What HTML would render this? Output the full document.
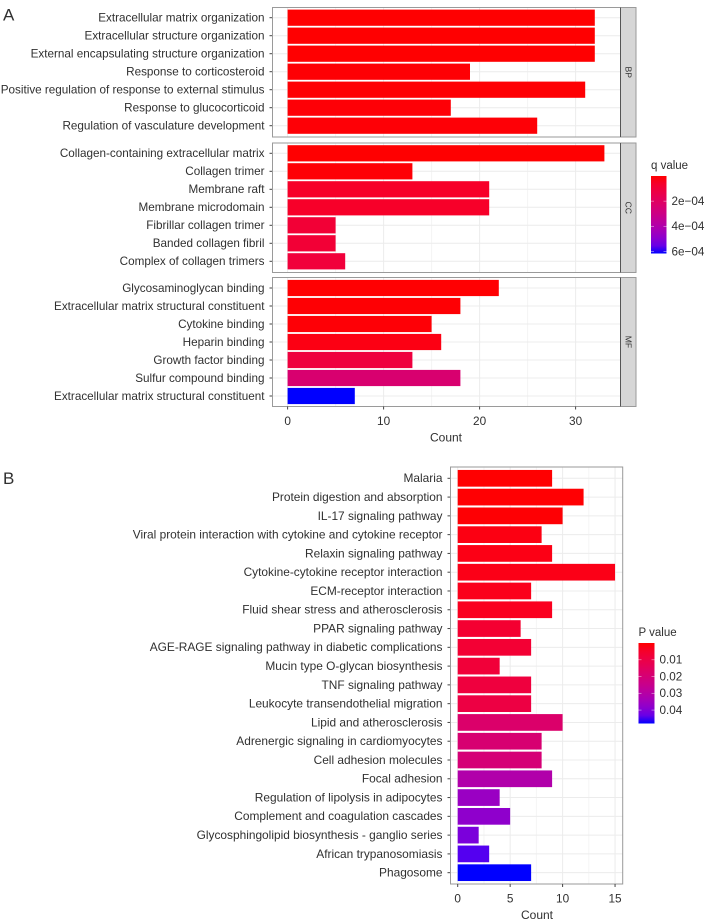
<!DOCTYPE html>
<html>
<head>
<meta charset="utf-8">
<style>
html,body{margin:0;padding:0;background:#fff;}
svg{display:block;}
text{font-family:"Liberation Sans",sans-serif;fill:#303030;}
</style>
</head>
<body>
<svg id="fig" xmlns="http://www.w3.org/2000/svg" width="705" height="924" viewBox="0 0 705 924">
<defs>
<linearGradient id="gradA" x1="0" y1="0" x2="0" y2="1"></linearGradient>
<linearGradient id="gradB" x1="0" y1="0" x2="0" y2="1"></linearGradient>
</defs>
</svg>
<script>
var bpTerms = ["Extracellular matrix organization","Extracellular structure organization","External encapsulating structure organization","Response to corticosteroid","Positive regulation of response to external stimulus","Response to glucocorticoid","Regulation of vasculature development"];
var bpCounts = [32,32,32,19,31,17,26];
var bpQ = [0.000001,0.000001,0.000001,0.000004,0.000004,0.000006,0.000006];
var ccTerms = ["Collagen-containing extracellular matrix","Collagen trimer","Membrane raft","Membrane microdomain","Fibrillar collagen trimer","Banded collagen fibril","Complex of collagen trimers"];
var ccCounts = [33,13,21,21,5,5,6];
var ccQ = [0.000001,0.000006,0.00006,0.00006,0.00009,0.00009,0.0001];
var mfTerms = ["Glycosaminoglycan binding","Extracellular matrix structural constituent","Cytokine binding","Heparin binding","Growth factor binding","Sulfur compound binding","Extracellular matrix structural constituent"];
var mfCounts = [22,18,15,16,13,18,7];
var mfQ = [0.000002,0.000004,0.000006,0.00002,0.00011,0.00024,0.000616];
var aTicks = [0,10,20,30];
var aMinorTicks = [5,15,25];
var aLegendTicks = [0.0002,0.0004,0.0006];
var aLegendLabels = ["2e\u221204","4e\u221204","6e\u221204"];
var aFacets = ["BP","CC","MF"];

var keggTerms = ["Malaria","Protein digestion and absorption","IL-17 signaling pathway","Viral protein interaction with cytokine and cytokine receptor","Relaxin signaling pathway","Cytokine-cytokine receptor interaction","ECM-receptor interaction","Fluid shear stress and atherosclerosis","PPAR signaling pathway","AGE-RAGE signaling pathway in diabetic complications","Mucin type O-glycan biosynthesis","TNF signaling pathway","Leukocyte transendothelial migration","Lipid and atherosclerosis","Adrenergic signaling in cardiomyocytes","Cell adhesion molecules","Focal adhesion","Regulation of lipolysis in adipocytes","Complement and coagulation cascades","Glycosphingolipid biosynthesis - ganglio series","African trypanosomiasis","Phagosome"];
var keggCounts = [9,12,10,8,9,15,7,9,6,7,4,7,7,10,8,8,9,4,5,2,3,7];
var keggP = [0.0001,0.0002,0.0003,0.0015,0.0018,0.002,0.0025,0.003,0.006,0.0065,0.0075,0.0085,0.0095,0.0175,0.019,0.02,0.031,0.036,0.038,0.041,0.045,0.048];
var bTicks = [0,5,10,15];
var bMinorTicks = [2.5,7.5,12.5];
var bLegendTicks = [0.01,0.02,0.03,0.04];
var bLegendLabels = ["0.01","0.02","0.03","0.04"];

var svg = document.getElementById('fig');
var NS = 'http://www.w3.org/2000/svg';
function make(tag, attrs, txt){
  var el = document.createElementNS(NS, tag);
  for (var k in attrs) el.setAttribute(k, attrs[k]);
  if (txt !== undefined) el.textContent = txt;
  svg.appendChild(el);
  return el;
}
/* Lab interpolation between red and blue (as ggplot's scale_fill_gradient) */
var L0=[53.24,80.09,67.2], L1=[32.3,79.19,-107.86];
function lab2hex(L,a,b){
  var fy=(L+16)/116, fx=fy+a/500, fz=fy-b/200;
  function g(f){return f>0.2069?f*f*f:(f-16/116)/7.787;}
  var X=0.95047*g(fx),Y=g(fy),Z=1.08883*g(fz);
  var r=3.2406*X-1.5372*Y-0.4986*Z, gr=-0.9689*X+1.8758*Y+0.0415*Z, bl=0.0557*X-0.204*Y+1.057*Z;
  function c(v){v=Math.max(0,Math.min(1,v));v=v<=0.0031308?12.92*v:1.055*Math.pow(v,1/2.4)-0.055;return ('0'+Math.round(v*255).toString(16)).slice(-2);}
  return '#'+c(r)+c(gr)+c(bl);
}
function ramp(t){
  t=Math.max(0,Math.min(1,t));
  return lab2hex(L0[0]+(L1[0]-L0[0])*t,L0[1]+(L1[1]-L0[1])*t,L0[2]+(L1[2]-L0[2])*t);
}
var GRID='#ececec', MINOR='#f4f4f4', BORDER='#9a9a9a', TICK='#444444';

function xA(v){return 287.6+v*9.6;}
function xB(v){return 457.7+v*10.49;}
var qMax=0.000616, pMax=0.048;
function colorA(q){return ramp(q/qMax);}
function colorB(p){return ramp(p/pMax);}

function drawPanel(cfg){
  var p=cfg.name;
  var bg=make('rect',{x:cfg.x0,y:cfg.y0,width:cfg.x1-cfg.x0,height:cfg.y1-cfg.y0,fill:'#fff'});
  
  
  cfg.minor.forEach(function(v){
    var l=make('line',{x1:cfg.xf(v),x2:cfg.xf(v),y1:cfg.y0,y2:cfg.y1,stroke:MINOR,'stroke-width':1});
    
    
  });
  cfg.major.forEach(function(v){
    var l=make('line',{x1:cfg.xf(v),x2:cfg.xf(v),y1:cfg.y0,y2:cfg.y1,stroke:GRID,'stroke-width':1});
    
    
  });
  cfg.terms.forEach(function(t,i){
    var y=cfg.yf(i);
    var g=make('line',{x1:cfg.x0,x2:cfg.x1,y1:y,y2:y,stroke:GRID,'stroke-width':1});
    
    
  });
  cfg.terms.forEach(function(t,i){
    var y=cfg.yf(i);
    var b=make('rect',{x:cfg.xf(0),y:y-cfg.h/2,width:cfg.xf(cfg.counts[i])-cfg.xf(0),height:cfg.h,fill:cfg.color(cfg.vals[i])});
    
    
    var tk=make('line',{x1:cfg.x0-3,x2:cfg.x0,y1:y,y2:y,stroke:TICK,'stroke-width':1});
    
    
    var lb=make('text',{x:cfg.x0-8,y:y+3.9,'text-anchor':'end','font-size':cfg.fs},t);
    
    
  });
  var br=make('rect',{x:cfg.x0,y:cfg.y0,width:cfg.x1-cfg.x0,height:cfg.y1-cfg.y0,fill:'none',stroke:BORDER,'stroke-width':1});
  
  
}
function drawXAxis(name,ticks,xf,y,title,titleX){
  ticks.forEach(function(v){
    var tk=make('line',{x1:xf(v),x2:xf(v),y1:y,y2:y+3,stroke:TICK,'stroke-width':1});
    
    
    var lb=make('text',{x:xf(v),y:y+18.4,'text-anchor':'middle','font-size':11.8},String(v));
    
    
  });
  var t=make('text',{x:titleX,y:y+35,'text-anchor':'middle','font-size':12},title);
  
  
}
function drawLegend(cfg){
  var g=document.getElementById(cfg.grad);
  for(var i=0;i<=10;i++){
    var s=document.createElementNS(NS,'stop');
    s.setAttribute('offset',(i*10)+'%');
    s.setAttribute('stop-color',ramp(i/10));
    g.appendChild(s);
  }
  var t=make('text',{x:cfg.x,y:cfg.titleY,'font-size':11.5},cfg.title);
  
  
  var r=make('rect',{x:cfg.x,y:cfg.y0,width:cfg.w,height:cfg.y1-cfg.y0,fill:'url(#'+cfg.grad+')'});
  
  
  cfg.ticks.forEach(function(v,i){
    var y=cfg.y0+(v/cfg.max)*(cfg.y1-cfg.y0);
    var a=make('line',{x1:cfg.x,x2:cfg.x+3,y1:y,y2:y,stroke:'#fff','stroke-opacity':0.6,'stroke-width':0.7});
    
    
    var b=make('line',{x1:cfg.x+cfg.w-3,x2:cfg.x+cfg.w,y1:y,y2:y,stroke:'#fff','stroke-opacity':0.6,'stroke-width':0.7});
    
    
    var l=make('text',{x:cfg.x+cfg.w+5,y:y+3.9,'font-size':11.7},cfg.labels[i]);
    
    
  });
}

var la=make('text',{x:3,y:20.5,'font-size':17},'A');


var lbb=make('text',{x:3,y:484,'font-size':17},'B');



var facetRows=[[bpTerms,bpCounts,bpQ,7.5,137,17.7],[ccTerms,ccCounts,ccQ,143,272.5,153.3],[mfTerms,mfCounts,mfQ,277.5,406.5,288]];
facetRows.forEach(function(f,k){
  var first=f[5];
  drawPanel({name:'go-'+aFacets[k].toLowerCase(),x0:272.5,x1:620.5,y0:f[3],y1:f[4],xf:xA,fs:11.7,
    yf:function(i){return first+i*18;},h:16.2,terms:f[0],counts:f[1],vals:f[2],color:colorA,major:aTicks,minor:aMinorTicks});
  var st=make('rect',{x:620.5,y:f[3],width:15.5,height:f[4]-f[3],fill:'#d6d6d6',stroke:BORDER,'stroke-width':1});
  
  
  var dv=make('line',{x1:620.5,x2:620.5,y1:f[3],y2:f[4],stroke:'#555','stroke-width':1});
  
  
  var cy=(f[3]+f[4])/2;
  var sl=make('text',{x:628.3,y:cy,'text-anchor':'middle','dominant-baseline':'central','font-size':8.6,transform:'rotate(90 628.3 '+cy+')'},aFacets[k]);
  
  
});
drawXAxis('go',aTicks,xA,406.5,'Count',446);
drawLegend({name:'go',grad:'gradA',title:'q value',x:651,titleY:169,y0:176,y1:253.5,w:15.5,ticks:aLegendTicks,labels:aLegendLabels,max:qMax});

drawPanel({name:'kegg',x0:450.5,x1:622.7,y0:467,y1:884,xf:xB,fs:11.9,
  yf:function(i){return 478.3+i*18.78;},h:16.7,terms:keggTerms,counts:keggCounts,vals:keggP,color:colorB,major:bTicks,minor:bMinorTicks});
drawXAxis('kegg',bTicks,xB,884,'Count',537);
drawLegend({name:'kegg',grad:'gradB',title:'P value',x:638.5,titleY:636,y0:643,y1:723.5,w:16,ticks:bLegendTicks,labels:bLegendLabels,max:pMax});
</script>
</body>
</html>
